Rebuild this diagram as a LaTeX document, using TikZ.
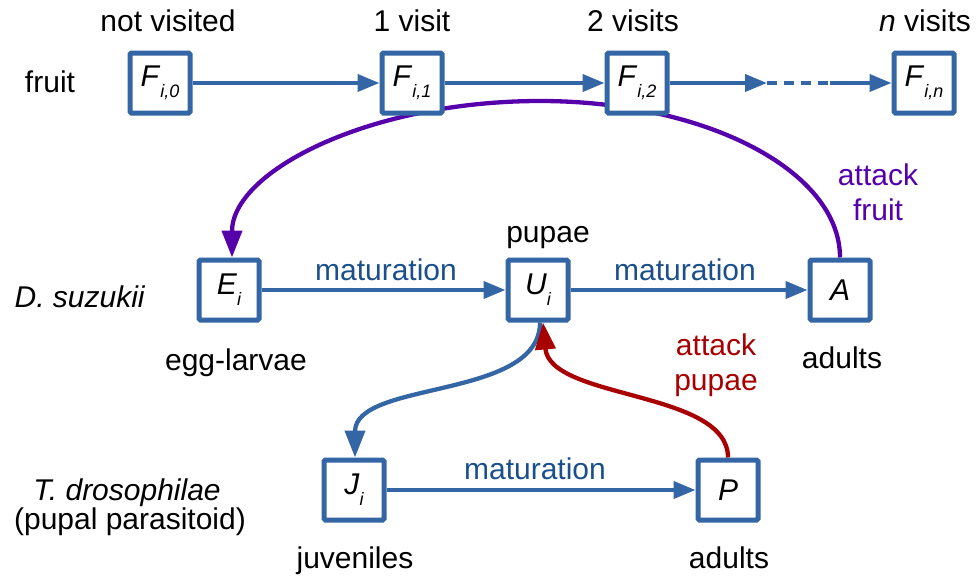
\documentclass[tikz,border=0pt]{standalone}
\usepackage{fontspec}
\setmainfont{Liberation Sans}
\usetikzlibrary{arrows.meta,backgrounds}

\definecolor{boxblue}{HTML}{3465A4}
\definecolor{matblue}{HTML}{1A4F8C}
\definecolor{atkpurple}{HTML}{5500AA}
\definecolor{atkred}{HTML}{A80000}

% state symbol with a lowered italic index
\newcommand{\stsym}[2]{\textit{#1}\raisebox{-11pt}{\fontsize{18}{18}\selectfont\itshape #2}}

\begin{document}
\begin{tikzpicture}[x=1pt,y=-1pt,
  every node/.style={font=\fontsize{30}{35}\selectfont, inner sep=0pt, outer sep=0pt},
  compbox/.style={draw=boxblue, line width=5pt, fill=white, rounded corners=1.5pt,
    minimum size=60pt, outer sep=2.5pt},
  lbl/.style={anchor=base},
  matlbl/.style={anchor=base, text=matblue},
  flowarrow/.style={draw=boxblue, line width=4pt, -{Triangle[length=22pt,width=17pt]}},
  flowline/.style={draw=boxblue, line width=4pt},
  flowdash/.style={draw=boxblue, line width=4pt, dash pattern=on 10pt off 7pt},
  curvearrow/.style={line width=4.3pt, -{Triangle[length=27pt,width=20pt]}}
]
\useasboundingbox (0,0) rectangle (980,576);

% compartments
\node[compbox] (F0) at (160,83)  {\stsym{F}{i,0}};
\node[compbox] (F1) at (412,83)  {\stsym{F}{i,1}};
\node[compbox] (F2) at (637,83)  {\stsym{F}{i,2}};
\node[compbox] (Fn) at (924,83)  {\stsym{F}{i,n}};
\node[compbox] (E)  at (229,290) {\stsym{E}{i}};
\node[compbox] (U)  at (538,290) {\stsym{U}{i}};
\node[compbox] (A)  at (840,290) {\textit{A}};
\node[compbox] (J)  at (354,490) {\stsym{J}{i}};
\node[compbox] (P)  at (728,490) {\textit{P}};

\coordinate (d1) at (767,83);
\coordinate (d2) at (830,83);

% fruit visit chain
\draw[flowarrow] (F0) -- (F1);
\draw[flowarrow] (F1) -- (F2);
\draw[flowarrow] (F2) -- (d1);
\draw[flowdash] (d1) -- (d2);
\draw[flowarrow] (d2) -- (Fn);

% maturation steps
\draw[flowarrow] (E) -- (U);
\draw[flowarrow] (U) -- (A);
\draw[flowarrow] (J) -- (P);

% curved links, kept behind the boxes
\begin{scope}[on background layer]
  \draw[curvearrow, atkpurple] (A.north)
    .. controls (840,171) and (706,101) .. (540,101)
    .. controls (370,101) and (232,171) .. ([xshift=3pt]E.north);
  \draw[curvearrow, boxblue] ([xshift=2pt]U.south)
    .. controls (540,400) and (355,380) .. ([xshift=1pt]J.north);
  \draw[curvearrow, atkred] (P.north)
    .. controls (728,390) and (550,400) .. ([xshift=5pt]U.south);
\end{scope}

% stage labels
\node[lbl] (lnv) at (168,31) {not visited};
\node[lbl] (l1v) at (412,31) {1 visit};
\node[lbl] (l2v) at (633,31) {2 visits};
\node[lbl] (lnn) at (925,31) {\textit{n} visits};
\node[lbl] (lfr) at (50,92) {fruit};
\node[lbl] (lds) at (80,307) {\textit{D. suzukii}};
\node[lbl] (ltd) at (127,500) {\textit{T. drosophilae}};
\node[lbl] (lpp) at (130,529) {(pupal parasitoid)};
\node[lbl] (leg) at (236,370) {egg-larvae};
\node[lbl] (lpu) at (548,242) {pupae};
\node[lbl] (lad) at (842,368) {adults};
\node[lbl] (lju) at (355,568) {juveniles};
\node[lbl] (lap) at (729,568) {adults};

% transition labels
\node[matlbl] (m1) at (386,280) {maturation};
\node[matlbl] (m2) at (685,280) {maturation};
\node[matlbl] (m3) at (535,479) {maturation};
\node[lbl, text=atkpurple] (af1) at (878,185) {attack};
\node[lbl, text=atkpurple] (af2) at (878,220) {fruit};
\node[lbl, text=atkred] (ap1) at (716,355) {attack};
\node[lbl, text=atkred] (ap2) at (716,390) {pupae};
\end{tikzpicture}
\end{document}
